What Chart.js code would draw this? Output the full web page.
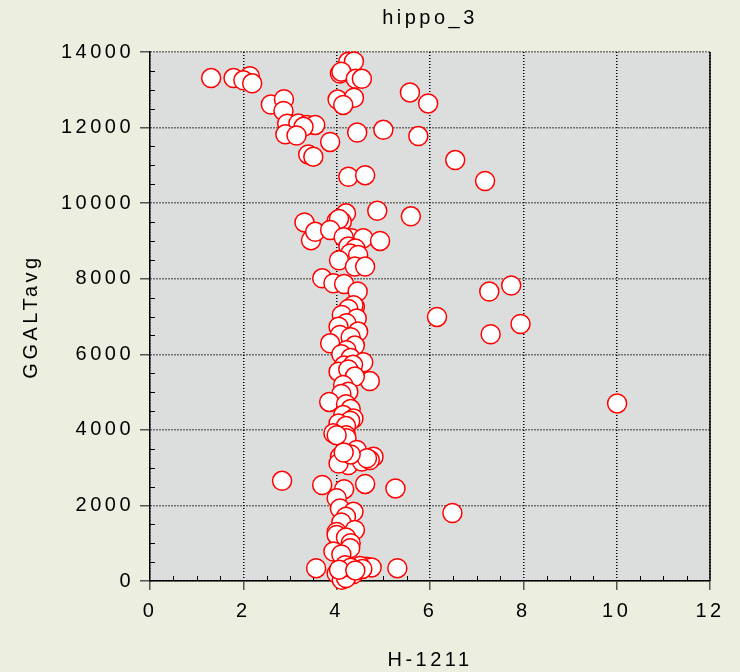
<!doctype html>
<html lang="en">
 <head>
  <meta charset="UTF-8">
  <title>hippo_3</title>
  <script src="https://cdn.jsdelivr.net/npm/chart.js"></script>
  <style>
        body {
            margin: 0;
            padding: 0;
            background-color: #ecefe0;
        }

        #wrap {
            width: 740px;
            height: 672px;
        }
    </style>
 </head>
 <body>
  <div id="wrap">
   <canvas id="chart" width="740" height="672"></canvas>
  </div>
  <script>
        const chartTitle = 'hippo_3';
        const xTitle = 'H-1211';
        const yTitle = 'GGALTavg';
        const xTicks = [0, 2, 4, 6, 8, 10, 12];
        const yTicks = [0, 2000, 4000, 6000, 8000, 10000, 12000, 14000];

        // H-1211 values
        const h1211 = [
            1.31, 1.79, 2.14, 2.0, 2.19, 2.59, 2.87, 2.86,
            2.94, 3.18, 3.36, 3.54, 3.29, 2.90, 3.14, 3.86, 3.39, 3.50,
            4.25, 4.37, 4.07, 4.10, 4.41, 4.54, 4.02, 4.37, 4.14,
            4.44, 5.0, 5.57, 5.96, 5.75, 6.54, 4.25, 4.61, 7.18,
            4.87, 5.59, 3.31, 4.20, 4.0, 4.11, 4.05,
            3.45, 3.54, 3.86, 4.32, 4.57, 4.93, 4.15, 4.25, 4.4,
            4.29, 4.46, 4.05, 4.39, 4.61,
            3.69, 3.93, 4.16, 4.45, 4.39,
            7.27, 7.74, 7.30, 7.94, 6.15, 10.01, 6.48,
            4.36, 4.25, 4.11, 4.43, 4.21, 4.04, 4.46, 4.07, 4.3,
            3.86, 4.39, 4.21, 4.1, 4.3,
            4.57, 4.16, 4.35, 4.04, 4.25,
            4.71, 4.39, 4.14, 4.25, 4.1,
            3.84, 4.20, 4.3,
            4.14, 4.36, 4.29, 4.04, 4.2,
            3.93, 4.20, 4.21, 4.0,
            4.43, 4.79, 4.07, 4.25, 4.04, 4.54, 4.71, 4.65, 4.3, 4.15,
            3.69, 4.16, 4.61, 5.26, 2.83,
            4.0, 4.07, 4.36, 4.2, 4.1,
            4.0, 4.39, 4.0, 4.2, 4.3,
            4.29, 3.93, 4.1,
            3.56, 5.3, 4.0, 4.36, 4.11, 4.2, 4.64, 4.75, 4.18, 4.5, 4.3, 4.05, 4.55, 4.4
        ];

        // GGALTavg values
        const ggaltavg = [
            13310, 13310, 13360, 13250, 13170, 12610, 12750, 12440,
            12100, 12110, 12070, 12070, 12020, 11820, 11790, 11620, 11290, 11230,
            13740, 13750, 13430, 13480, 13290, 13290, 12740, 12790, 12600,
            11870, 11940, 12930, 12640, 11775, 11140, 10700, 10740, 10585,
            9800, 9650, 9490, 9730, 9530, 9510, 9580,
            9020, 9240, 9290, 9070, 9070, 9000, 9100, 8850, 8800,
            8670, 8630, 8490, 8320, 8320,
            8010, 7880, 7860, 7660, 7260,
            7660, 7820, 6530, 6800, 6990, 4700, 1800,
            7300, 7200, 7040, 6950, 6820, 6730, 6600, 6510, 6450,
            6290, 6230, 6110, 6000, 5900,
            5790, 5700, 5720, 5540, 5600,
            5290, 5410, 5190, 5010, 4950,
            4740, 4680, 4550,
            4390, 4300, 4240, 4170, 4100,
            3910, 3860, 3780, 3860,
            3470, 3290, 3290, 3070, 3110, 3160, 3200, 3250, 3350, 3400,
            2540, 2430, 2570, 2450, 2650,
            2190, 1920, 1830, 1700, 1550,
            1300, 1350, 1220, 1150, 1000,
            870, 780, 700,
            340, 340, 200, 185, 30, 80, 380, 360, 420, 400, 350, 300, 320, 280
        ];

        const points = h1211.map((x, i) => ({ x: x, y: ggaltavg[i] }));

        const FONT = "'Liberation Sans', Arial, sans-serif";
        const SPACING = '3.5px';

        // grey plot area, inward minor ticks, solid right edge, letter spacing
        const plotDecor = {
            id: 'plotDecor',
            beforeLayout(chart) {
                chart.ctx.letterSpacing = SPACING;
            },
            beforeDraw(chart) {
                const { ctx, chartArea: a } = chart;
                ctx.letterSpacing = SPACING;
                ctx.save();
                ctx.fillStyle = '#dcdedd';
                ctx.fillRect(a.left, a.top, a.right - a.left, a.bottom - a.top);
                ctx.restore();
            },
            beforeDatasetsDraw(chart) {
                const { ctx, chartArea: a, scales } = chart;
                ctx.save();
                ctx.strokeStyle = '#000';
                ctx.lineWidth = 1;
                ctx.beginPath();
                for (let v = 500; v < 14000; v += 500) {
                    if (v % 2000 === 0) continue;
                    const py = Math.round(scales.y.getPixelForValue(v)) + 0.5;
                    ctx.moveTo(a.left, py);
                    ctx.lineTo(a.left + 5, py);
                }
                for (let v = 0.5; v < 12; v += 0.5) {
                    if (v % 2 === 0) continue;
                    const px = Math.round(scales.x.getPixelForValue(v)) + 0.5;
                    ctx.moveTo(px, a.bottom);
                    ctx.lineTo(px, a.bottom - 5);
                }
                ctx.stroke();
                ctx.lineWidth = 1.5;
                ctx.beginPath();
                ctx.moveTo(a.right, a.top);
                ctx.lineTo(a.right, a.bottom);
                ctx.stroke();
                ctx.restore();
            }
        };

        const ctx = document.getElementById('chart').getContext('2d');
        const chart = new Chart(ctx, {
            type: 'scatter',
            data: {
                datasets: [{
                    data: points,
                    backgroundColor: '#ffffff',
                    borderColor: '#ff0000',
                    borderWidth: 1.5,
                    pointRadius: 9.5,
                    pointHoverRadius: 9.5,
                    clip: false
                }]
            },
            options: {
                responsive: false,
                animation: false,
                layout: { padding: { left: 0, right: 30, top: 0, bottom: 0 } },
                plugins: {
                    legend: { display: false },
                    tooltip: { enabled: false }
                },
                scales: {
                    // empty top axis, only carries the chart title centred over the plot
                    top: {
                        type: 'linear',
                        position: 'top',
                        min: 0,
                        max: 12,
                        afterFit: (s) => { s.height = 52; },
                        ticks: { display: false },
                        grid: { display: false, drawTicks: false },
                        border: { display: false },
                        title: {
                            display: true,
                            text: chartTitle,
                            color: '#000',
                            font: { family: FONT, size: 20 },
                            padding: { top: 6, bottom: 0 }
                        }
                    },
                    x: {
                        type: 'linear',
                        position: 'bottom',
                        min: 0,
                        max: 12,
                        afterBuildTicks: (s) => { s.ticks = xTicks.map(v => ({ value: v })); },
                        afterFit: (s) => { s.height = 91; },
                        ticks: {
                            color: '#000',
                            padding: 9,
                            font: { family: FONT, size: 20 },
                            callback: (v) => String(v)
                        },
                        grid: {
                            color: '#000',
                            lineWidth: 1.5,
                            tickLength: 9,
                            tickColor: '#555',
                            tickWidth: 1.5
                        },
                        border: { display: true, color: '#000', width: 1.5, dash: [1, 2] },
                        title: {
                            display: true,
                            text: xTitle,
                            color: '#000',
                            font: { family: FONT, size: 20 },
                            padding: { top: 2, bottom: 0 }
                        }
                    },
                    y: {
                        type: 'linear',
                        min: 0,
                        max: 14000,
                        afterBuildTicks: (s) => { s.ticks = yTicks.map(v => ({ value: v })); },
                        afterFit: (s) => { s.width = 150; },
                        ticks: {
                            color: '#000',
                            padding: 6,
                            font: { family: FONT, size: 20 },
                            callback: (v) => String(v)
                        },
                        grid: {
                            color: '#000',
                            lineWidth: 1.5,
                            tickLength: 10,
                            tickColor: '#555',
                            tickWidth: 1.5
                        },
                        border: { display: true, color: '#000', width: 1.5, dash: [1, 2] },
                        title: {
                            display: true,
                            text: yTitle,
                            color: '#000',
                            font: { family: FONT, size: 20 },
                            padding: { top: 19, bottom: 0 }
                        }
                    }
                }
            },
            plugins: [plotDecor]
        });
    </script>
 </body>
</html>
